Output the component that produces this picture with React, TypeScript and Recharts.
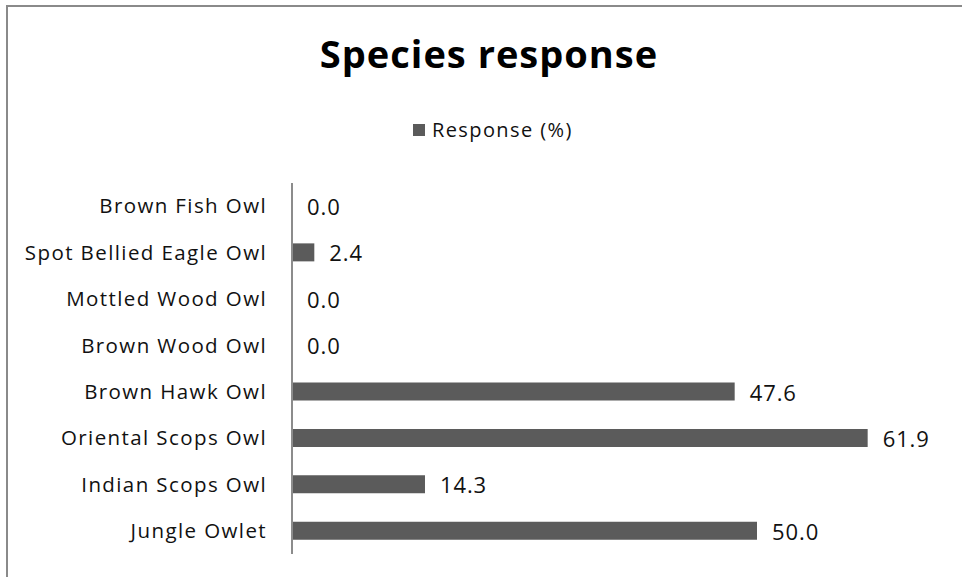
import React from "react";
import { BarChart, Bar, XAxis, YAxis, LabelList } from "recharts";

const species = [
  "Brown Fish Owl",
  "Spot Bellied Eagle Owl",
  "Mottled Wood Owl",
  "Brown Wood Owl",
  "Brown Hawk Owl",
  "Oriental Scops Owl",
  "Indian Scops Owl",
  "Jungle Owlet",
];
const responsePct = [0.0, 2.4, 0.0, 0.0, 47.6, 61.9, 14.3, 50.0];
const seriesName = "Response (%)";
const chartTitle = "Species response";

const data = species.map((name, i) => ({ name, value: responsePct[i] }));

const FONT = "'Open Sans', Lato, sans-serif";
const BAR = "#5b5b5b";

// Value label drawn to the right of each bar, including zero-length ones
const ValueLabel = (props: any) => {
  const { x, y, width, height, value } = props;
  if (value == null) return null;
  return (
    <text
      x={Number(x) + Number(width) + 15}
      y={Number(y) + Number(height) / 2}
      dominantBaseline="central"
      fill="#111"
      fontSize={22}
      fontFamily={FONT}
      letterSpacing={0.9}
    >
      {Number(value).toFixed(1)}
    </text>
  );
};

export default function App() {
  return (
    <div
      style={{
        position: "absolute",
        left: 0,
        top: 0,
        width: 962,
        height: 577,
        background: "#fff",
        overflow: "hidden",
        fontFamily: FONT,
      }}
    >
      <div
        style={{
          position: "absolute",
          left: 6,
          top: 5,
          width: 956,
          height: 572,
          borderTop: "2px solid #8a8a8a",
          borderLeft: "2px solid #8a8a8a",
          boxSizing: "border-box",
        }}
      />
      <div style={{ position: "absolute", left: 0, top: 0 }}>
        <BarChart
          width={962}
          height={577}
          layout="vertical"
          data={data}
          margin={{ top: 183, right: 19, bottom: 23, left: 0 }}
        >
          <XAxis type="number" domain={[0, 70]} hide />
          <YAxis
            type="category"
            dataKey="name"
            width={292}
            axisLine={{ stroke: "#8c8c8c", strokeWidth: 2 }}
            tickLine={false}
            tickSize={0}
            tickMargin={25}
            tick={{ fill: "#111", fontSize: 20.5, fontFamily: FONT, letterSpacing: 1.4 }}
            interval={0}
          />
          <Bar
            dataKey="value"
            fill={BAR}
            barSize={18}
            minPointSize={0.01}
            isAnimationActive={false}
          >
            <LabelList dataKey="value" content={ValueLabel} />
          </Bar>
        </BarChart>
      </div>
      <div
        style={{
          position: "absolute",
          left: 0,
          width: 978,
          top: 29,
          textAlign: "center",
          fontSize: 38,
          fontWeight: 700,
          letterSpacing: 1,
          color: "#000",
          lineHeight: "48px",
        }}
      >
        {chartTitle}
      </div>
      <div
        style={{
          position: "absolute",
          left: 413,
          top: 117,
          display: "flex",
          alignItems: "center",
          fontSize: 20,
          letterSpacing: 1.4,
          color: "#111",
          lineHeight: "26px",
        }}
      >
        <span
          style={{
            display: "inline-block",
            width: 12,
            height: 12,
            background: BAR,
            marginRight: 7,
          }}
        />
        {seriesName}
      </div>
    </div>
  );
}
